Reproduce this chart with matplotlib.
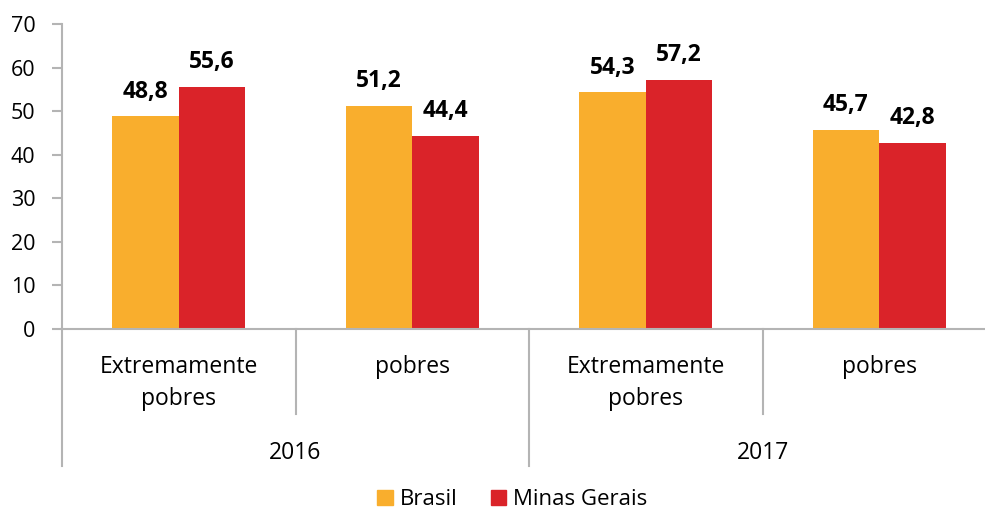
import numpy as np
import matplotlib.pyplot as plt
from matplotlib.patches import Patch

# data
years = ["2016", "2017"]
categories = ["Extremamente\npobres", "pobres", "Extremamente\npobres", "pobres"]
brasil = [48.8, 51.2, 54.3, 45.7]
minas_gerais = [55.6, 44.4, 57.2, 42.8]

orange = "#F9AE2D"
red = "#DA2329"
axis_gray = "#B4B4B4"

plt.rcParams['font.family'] = ['Open Sans', 'DejaVu Sans']

fig = plt.figure(figsize=(9.85, 5.14), dpi=100)
ax = fig.add_axes([62 / 985, 185 / 514, 934 / 985, 305 / 514])

x = np.arange(len(categories))
w = 0.285
b1 = ax.bar(x - w / 2, brasil, w, color=orange, label="Brasil")
b2 = ax.bar(x + w / 2, minas_gerais, w, color=red, label="Minas Gerais")

# value labels
for bars, vals in [(b1, brasil), (b2, minas_gerais)]:
    for rect, v in zip(bars, vals):
        ax.annotate(f"{v:.1f}".replace(".", ","),
                    (rect.get_x() + rect.get_width() / 2, v),
                    xytext=(0, 9), textcoords="offset points",
                    ha="center", va="bottom", fontsize=16.5, fontweight="bold")

ax.set_xlim(-0.5, len(categories) - 0.5)
ax.set_ylim(0, 70)
ax.set_yticks(range(0, 71, 10))
ax.tick_params(axis="y", labelsize=15.5, length=7, color=axis_gray, width=1.5, pad=12)
ax.set_xticks([])

for s in ["top", "right"]:
    ax.spines[s].set_visible(False)
ax.spines["left"].set_color(axis_gray)
ax.spines["bottom"].set_color(axis_gray)
ax.spines["left"].set_linewidth(1.5)
ax.spines["bottom"].set_linewidth(1.5)

# multi-level category axis drawn below the plot
trans = ax.get_xaxis_transform()
for i, lab in enumerate(categories):
    ax.text(i, -0.085, lab, transform=trans, ha="center", va="top",
            fontsize=16.5, linespacing=1.45)
for i, yr in enumerate(years):
    ax.text(2 * i + 0.5, -0.405, yr, transform=trans, ha="center", va="center",
            fontsize=16.5)

# separators
for xs, depth in [(-0.5, -0.45), (0.5, -0.28), (1.5, -0.45), (2.5, -0.28)]:
    ax.plot([xs, xs], [0, depth], transform=trans, color=axis_gray, lw=1.5,
            clip_on=False)

handles = [Patch(color=orange, label="Brasil"), Patch(color=red, label="Minas Gerais")]
fig.legend(handles=handles, loc="center", bbox_to_anchor=(0.52, 0.028), ncol=2,
           frameon=False, fontsize=16, handlelength=0.7, handleheight=0.7,
           handletextpad=0.3, columnspacing=1.5)

fig.savefig("out.png", dpi=100)
